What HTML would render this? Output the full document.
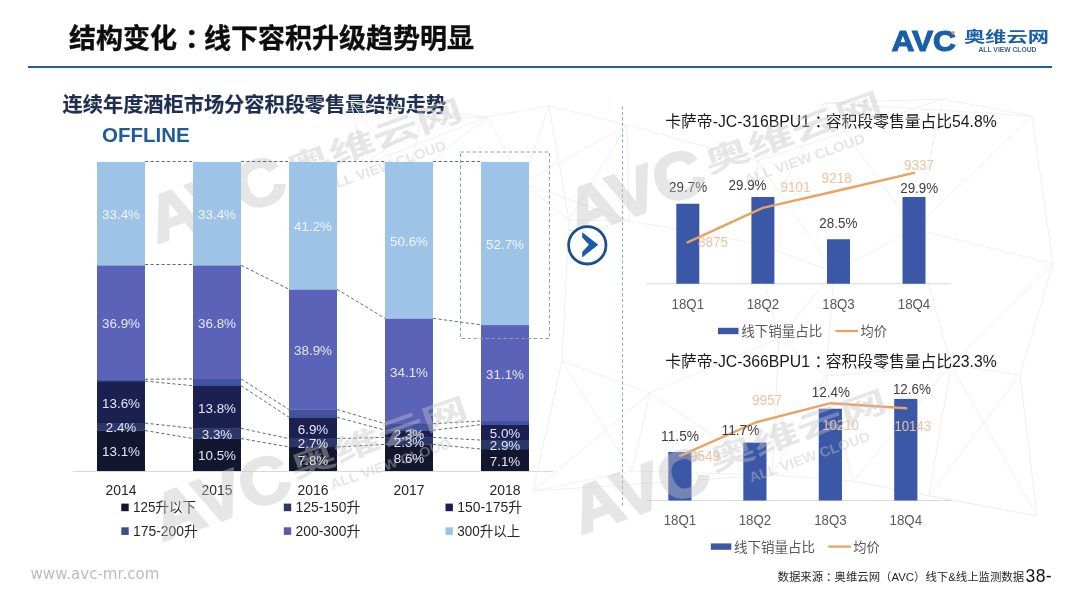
<!DOCTYPE html>
<html lang="zh-CN">
<head>
<meta charset="utf-8">
<title>结构变化：线下容积升级趋势明显</title>
<style>
html,body{margin:0;padding:0;background:#fff;}
body{width:1080px;height:608px;position:relative;overflow:hidden;font-family:'Liberation Sans', 'Noto Sans CJK SC', sans-serif;}
.abs{position:absolute;white-space:nowrap;line-height:1;}
#title{left:69px;top:26px;font-size:27px;font-weight:bold;color:#0d0d0d;-webkit-text-stroke:0.35px #0d0d0d;}
#rule{left:28px;top:66px;width:1024px;height:2.2px;background:#1f5fa6;}
#sub{left:62.6px;top:94.5px;font-size:20.2px;font-weight:bold;color:#1f2e50;-webkit-text-stroke:0.2px #1f2e50;}
#off{left:102px;top:124.6px;font-size:20.5px;font-weight:bold;color:#1f5c99;}
#www{left:30.5px;top:566.6px;font-size:15.1px;color:#bdbdbd;font-family:'DejaVu Sans','Liberation Sans',sans-serif;}
#src{left:777.5px;top:572.3px;font-size:11.4px;color:#262626;}
#pg{left:1025.5px;top:568.3px;font-size:17.6px;color:#111;letter-spacing:0.4px;}
svg{position:absolute;left:0;top:0;}
svg text{font-family:'Liberation Sans', 'Noto Sans CJK SC', sans-serif;}
</style>
</head>
<body>
<div class="abs" id="title">结构变化<span style="position:relative;left:8px">：</span>线下容积升级趋势明显</div>
<div class="abs" id="rule"></div>
<div class="abs" id="sub">连续年度酒柜市场分容积段零售量结构走势</div>
<div class="abs" id="off">OFFLINE</div>
<svg width="1080" height="608" viewBox="0 0 1080 608">
<g stroke="#f0f0f0" stroke-width="1" fill="none">
<line x1="549" y1="106" x2="569" y2="220"/>
<line x1="549" y1="106" x2="627" y2="125"/>
<line x1="549" y1="106" x2="487" y2="117"/>
<line x1="549" y1="106" x2="523" y2="183"/>
<line x1="569" y1="220" x2="562" y2="361"/>
<line x1="569" y1="220" x2="627" y2="125"/>
<line x1="569" y1="220" x2="629" y2="221"/>
<line x1="569" y1="220" x2="523" y2="183"/>
<line x1="562" y1="361" x2="533" y2="491"/>
<line x1="562" y1="361" x2="650" y2="393"/>
<line x1="562" y1="361" x2="632" y2="471"/>
<line x1="533" y1="491" x2="650" y2="393"/>
<line x1="533" y1="491" x2="632" y2="471"/>
<line x1="533" y1="491" x2="772" y2="475"/>
<line x1="627" y1="125" x2="629" y2="221"/>
<line x1="627" y1="125" x2="758" y2="161"/>
<line x1="627" y1="125" x2="523" y2="183"/>
<line x1="629" y1="221" x2="755" y2="243"/>
<line x1="629" y1="221" x2="523" y2="183"/>
<line x1="650" y1="393" x2="632" y2="471"/>
<line x1="650" y1="393" x2="779" y2="338"/>
<line x1="650" y1="393" x2="772" y2="475"/>
<line x1="632" y1="471" x2="772" y2="475"/>
<line x1="758" y1="161" x2="755" y2="243"/>
<line x1="758" y1="161" x2="824" y2="103"/>
<line x1="758" y1="161" x2="834" y2="272"/>
<line x1="758" y1="161" x2="943" y2="99"/>
<line x1="755" y1="243" x2="779" y2="338"/>
<line x1="755" y1="243" x2="824" y2="103"/>
<line x1="755" y1="243" x2="834" y2="272"/>
<line x1="779" y1="338" x2="772" y2="475"/>
<line x1="779" y1="338" x2="834" y2="272"/>
<line x1="779" y1="338" x2="826" y2="376"/>
<line x1="772" y1="475" x2="826" y2="376"/>
<line x1="772" y1="475" x2="853" y2="481"/>
<line x1="824" y1="103" x2="943" y2="99"/>
<line x1="824" y1="103" x2="914" y2="229"/>
<line x1="824" y1="103" x2="1032" y2="116"/>
<line x1="834" y1="272" x2="826" y2="376"/>
<line x1="834" y1="272" x2="914" y2="229"/>
<line x1="826" y1="376" x2="853" y2="481"/>
<line x1="826" y1="376" x2="951" y2="365"/>
<line x1="853" y1="481" x2="951" y2="365"/>
<line x1="853" y1="481" x2="929" y2="496"/>
<line x1="853" y1="481" x2="1037" y2="516"/>
<line x1="943" y1="99" x2="914" y2="229"/>
<line x1="943" y1="99" x2="1032" y2="116"/>
<line x1="914" y1="229" x2="951" y2="365"/>
<line x1="914" y1="229" x2="1032" y2="116"/>
<line x1="914" y1="229" x2="1053" y2="264"/>
<line x1="951" y1="365" x2="929" y2="496"/>
<line x1="951" y1="365" x2="1053" y2="264"/>
<line x1="951" y1="365" x2="1020" y2="375"/>
<line x1="951" y1="365" x2="1037" y2="516"/>
<line x1="929" y1="496" x2="1020" y2="375"/>
<line x1="929" y1="496" x2="1037" y2="516"/>
<line x1="1032" y1="116" x2="1053" y2="264"/>
<line x1="1053" y1="264" x2="1020" y2="375"/>
<line x1="1020" y1="375" x2="1037" y2="516"/>
<line x1="351" y1="102" x2="364" y2="165"/>
<line x1="351" y1="102" x2="421" y2="120"/>
<line x1="351" y1="102" x2="408" y2="180"/>
<line x1="351" y1="102" x2="487" y2="117"/>
<line x1="364" y1="165" x2="421" y2="120"/>
<line x1="364" y1="165" x2="408" y2="180"/>
<line x1="364" y1="165" x2="487" y2="117"/>
<line x1="421" y1="120" x2="408" y2="180"/>
<line x1="421" y1="120" x2="487" y2="117"/>
<line x1="408" y1="180" x2="487" y2="117"/>
<line x1="487" y1="117" x2="523" y2="183"/>
</g>
<g transform="translate(145.3,255.1) rotate(-19.5) scale(2.19)" opacity="0.42">
<text x="6.800000000000001" y="-3.1999999999999997" font-size="30" font-weight="bold" fill="#c4c4c4" stroke="#c4c4c4" stroke-width="1.1" textLength="64.6" lengthAdjust="spacingAndGlyphs">AVC</text>
<text x="73.5" y="-10.0" font-size="13.6" font-weight="bold" fill="#c4c4c4" textLength="85" lengthAdjust="spacingAndGlyphs">奥维云网</text>
<text x="88.0" y="0.4" font-size="6.3" font-weight="bold" fill="#c4c4c4" textLength="58" lengthAdjust="spacingAndGlyphs">ALL VIEW CLOUD</text>
</g>
<g id="stack">
<rect x="97" y="430.52" width="48" height="40.78" fill="#13162f"/>
<rect x="97" y="423.11" width="48" height="7.72" fill="#2b366b"/>
<rect x="97" y="381.08" width="48" height="42.32" fill="#1c2050"/>
<rect x="97" y="379.23" width="48" height="2.15" fill="#41529f"/>
<rect x="97" y="265.21" width="48" height="114.32" fill="#5b63b8"/>
<rect x="97" y="162.00" width="48" height="103.51" fill="#9dc3e6"/>
<rect x="193" y="438.56" width="48" height="32.74" fill="#13162f"/>
<rect x="193" y="428.36" width="48" height="10.50" fill="#2b366b"/>
<rect x="193" y="385.72" width="48" height="42.94" fill="#1c2050"/>
<rect x="193" y="378.92" width="48" height="7.10" fill="#41529f"/>
<rect x="193" y="265.21" width="48" height="114.01" fill="#5b63b8"/>
<rect x="193" y="162.00" width="48" height="103.51" fill="#9dc3e6"/>
<rect x="289" y="446.90" width="48" height="24.40" fill="#13162f"/>
<rect x="289" y="438.56" width="48" height="8.64" fill="#2b366b"/>
<rect x="289" y="417.23" width="48" height="21.62" fill="#1c2050"/>
<rect x="289" y="409.51" width="48" height="8.03" fill="#41529f"/>
<rect x="289" y="289.31" width="48" height="120.50" fill="#5b63b8"/>
<rect x="289" y="162.00" width="48" height="127.61" fill="#9dc3e6"/>
<rect x="385" y="444.43" width="48" height="26.87" fill="#13162f"/>
<rect x="385" y="437.32" width="48" height="7.41" fill="#2b366b"/>
<rect x="385" y="430.21" width="48" height="7.41" fill="#1c2050"/>
<rect x="385" y="423.72" width="48" height="6.79" fill="#41529f"/>
<rect x="385" y="318.35" width="48" height="105.67" fill="#5b63b8"/>
<rect x="385" y="162.00" width="48" height="156.65" fill="#9dc3e6"/>
<rect x="481" y="449.06" width="48" height="22.24" fill="#13162f"/>
<rect x="481" y="440.10" width="48" height="9.26" fill="#2b366b"/>
<rect x="481" y="424.65" width="48" height="15.75" fill="#1c2050"/>
<rect x="481" y="420.94" width="48" height="4.01" fill="#41529f"/>
<rect x="481" y="324.84" width="48" height="96.40" fill="#5b63b8"/>
<rect x="481" y="162.00" width="48" height="163.14" fill="#9dc3e6"/>
</g>
<g stroke="#6b6b6b" stroke-width="1" stroke-dasharray="3.2 2.3" fill="none">
<line x1="145" y1="430.52" x2="193" y2="438.56"/>
<line x1="145" y1="423.11" x2="193" y2="428.36"/>
<line x1="145" y1="381.08" x2="193" y2="385.72"/>
<line x1="145" y1="379.23" x2="193" y2="378.92"/>
<line x1="145" y1="264.50" x2="193" y2="264.50"/>
<line x1="145" y1="161.50" x2="193" y2="161.50"/>
<line x1="241" y1="438.56" x2="289" y2="446.90"/>
<line x1="241" y1="428.36" x2="289" y2="438.56"/>
<line x1="241" y1="385.72" x2="289" y2="417.23"/>
<line x1="241" y1="378.92" x2="289" y2="409.51"/>
<line x1="241" y1="265.21" x2="289" y2="289.31"/>
<line x1="241" y1="161.50" x2="289" y2="161.50"/>
<line x1="337" y1="446.90" x2="385" y2="444.43"/>
<line x1="337" y1="438.56" x2="385" y2="437.32"/>
<line x1="337" y1="417.23" x2="385" y2="430.21"/>
<line x1="337" y1="409.51" x2="385" y2="423.72"/>
<line x1="337" y1="289.31" x2="385" y2="318.35"/>
<line x1="337" y1="161.50" x2="385" y2="161.50"/>
<line x1="433" y1="444.43" x2="481" y2="449.06"/>
<line x1="433" y1="437.32" x2="481" y2="440.10"/>
<line x1="433" y1="430.21" x2="481" y2="424.65"/>
<line x1="433" y1="423.72" x2="481" y2="420.94"/>
<line x1="433" y1="318.35" x2="481" y2="324.84"/>
<line x1="433" y1="161.50" x2="481" y2="161.50"/>
</g>
<line x1="73" y1="471.5" x2="553" y2="471.5" stroke="#d9d9d9" stroke-width="1"/>
<text x="121.0" y="456.4" font-size="13.5" fill="#e4e6f1" text-anchor="middle" textLength="38.0" lengthAdjust="spacingAndGlyphs">13.1%</text>
<text x="121.0" y="432.4" font-size="13.5" fill="#e4e6f1" text-anchor="middle" textLength="30.5" lengthAdjust="spacingAndGlyphs">2.4%</text>
<text x="121.0" y="407.7" font-size="13.5" fill="#e4e6f1" text-anchor="middle" textLength="38.0" lengthAdjust="spacingAndGlyphs">13.6%</text>
<text x="121.0" y="327.8" font-size="13.5" fill="#e4e6f1" text-anchor="middle" textLength="38.0" lengthAdjust="spacingAndGlyphs">36.9%</text>
<text x="121.0" y="219.2" font-size="13.5" fill="#f2f5fb" text-anchor="middle" textLength="38.0" lengthAdjust="spacingAndGlyphs">33.4%</text>
<text x="121.0" y="495.0" font-size="14" fill="#262626" text-anchor="middle" textLength="31" lengthAdjust="spacingAndGlyphs">2014</text>
<text x="217.0" y="460.4" font-size="13.5" fill="#e4e6f1" text-anchor="middle" textLength="38.0" lengthAdjust="spacingAndGlyphs">10.5%</text>
<text x="217.0" y="439.1" font-size="13.5" fill="#e4e6f1" text-anchor="middle" textLength="30.5" lengthAdjust="spacingAndGlyphs">3.3%</text>
<text x="217.0" y="412.6" font-size="13.5" fill="#e4e6f1" text-anchor="middle" textLength="38.0" lengthAdjust="spacingAndGlyphs">13.8%</text>
<text x="217.0" y="327.7" font-size="13.5" fill="#e4e6f1" text-anchor="middle" textLength="38.0" lengthAdjust="spacingAndGlyphs">36.8%</text>
<text x="217.0" y="219.2" font-size="13.5" fill="#f2f5fb" text-anchor="middle" textLength="38.0" lengthAdjust="spacingAndGlyphs">33.4%</text>
<text x="217.0" y="495.0" font-size="14" fill="#262626" text-anchor="middle" textLength="31" lengthAdjust="spacingAndGlyphs">2015</text>
<text x="313.0" y="464.5" font-size="13.5" fill="#e4e6f1" text-anchor="middle" textLength="30.5" lengthAdjust="spacingAndGlyphs">7.8%</text>
<text x="313.0" y="448.3" font-size="13.5" fill="#e4e6f1" text-anchor="middle" textLength="30.5" lengthAdjust="spacingAndGlyphs">2.7%</text>
<text x="313.0" y="433.5" font-size="13.5" fill="#e4e6f1" text-anchor="middle" textLength="30.5" lengthAdjust="spacingAndGlyphs">6.9%</text>
<text x="313.0" y="355.0" font-size="13.5" fill="#e4e6f1" text-anchor="middle" textLength="38.0" lengthAdjust="spacingAndGlyphs">38.9%</text>
<text x="313.0" y="231.3" font-size="13.5" fill="#f2f5fb" text-anchor="middle" textLength="38.0" lengthAdjust="spacingAndGlyphs">41.2%</text>
<text x="313.0" y="495.0" font-size="14" fill="#262626" text-anchor="middle" textLength="31" lengthAdjust="spacingAndGlyphs">2016</text>
<text x="409.0" y="463.3" font-size="13.5" fill="#e4e6f1" text-anchor="middle" textLength="30.5" lengthAdjust="spacingAndGlyphs">8.6%</text>
<text x="409.0" y="446.5" font-size="13.5" fill="#e4e6f1" text-anchor="middle" textLength="30.5" lengthAdjust="spacingAndGlyphs">2.3%</text>
<text x="409.0" y="439.4" font-size="13.5" fill="#e4e6f1" text-anchor="middle" textLength="30.5" lengthAdjust="spacingAndGlyphs">2.3%</text>
<text x="409.0" y="376.6" font-size="13.5" fill="#e4e6f1" text-anchor="middle" textLength="38.0" lengthAdjust="spacingAndGlyphs">34.1%</text>
<text x="409.0" y="245.8" font-size="13.5" fill="#f2f5fb" text-anchor="middle" textLength="38.0" lengthAdjust="spacingAndGlyphs">50.6%</text>
<text x="409.0" y="495.0" font-size="14" fill="#262626" text-anchor="middle" textLength="31" lengthAdjust="spacingAndGlyphs">2017</text>
<text x="505.0" y="465.6" font-size="13.5" fill="#e4e6f1" text-anchor="middle" textLength="30.5" lengthAdjust="spacingAndGlyphs">7.1%</text>
<text x="505.0" y="450.2" font-size="13.5" fill="#e4e6f1" text-anchor="middle" textLength="30.5" lengthAdjust="spacingAndGlyphs">2.9%</text>
<text x="505.0" y="438.0" font-size="13.5" fill="#e4e6f1" text-anchor="middle" textLength="30.5" lengthAdjust="spacingAndGlyphs">5.0%</text>
<text x="505.0" y="378.5" font-size="13.5" fill="#e4e6f1" text-anchor="middle" textLength="38.0" lengthAdjust="spacingAndGlyphs">31.1%</text>
<text x="505.0" y="249.0" font-size="13.5" fill="#f2f5fb" text-anchor="middle" textLength="38.0" lengthAdjust="spacingAndGlyphs">52.7%</text>
<text x="505.0" y="495.0" font-size="14" fill="#262626" text-anchor="middle" textLength="31" lengthAdjust="spacingAndGlyphs">2018</text>
<rect x="460.5" y="152" width="89" height="186.5" fill="none" stroke="#86a6ab" stroke-width="1" stroke-dasharray="3.5 2.5"/>
<line x1="622.5" y1="106.5" x2="622.5" y2="506" stroke="#7fb2b8" stroke-width="1" stroke-dasharray="3 2.5"/>
<rect x="121.3" y="503.6" width="7.4" height="7.6" fill="#13162f"/>
<text x="133.1" y="511.8" font-size="14" fill="#262626" textLength="62.8" lengthAdjust="spacingAndGlyphs">125升以下</text>
<rect x="283.8" y="503.6" width="7.4" height="7.6" fill="#2b395f"/>
<text x="295.6" y="511.8" font-size="14" fill="#262626" textLength="64.8" lengthAdjust="spacingAndGlyphs">125-150升</text>
<rect x="445.5" y="503.6" width="7.4" height="7.6" fill="#1c2050"/>
<text x="457.3" y="511.8" font-size="14" fill="#262626" textLength="64.8" lengthAdjust="spacingAndGlyphs">150-175升</text>
<rect x="121.3" y="527.3000000000001" width="7.4" height="7.6" fill="#3b4f80"/>
<text x="133.1" y="535.5" font-size="14" fill="#262626" textLength="64.8" lengthAdjust="spacingAndGlyphs">175-200升</text>
<rect x="283.8" y="527.3000000000001" width="7.4" height="7.6" fill="#5c5ca8"/>
<text x="295.6" y="535.5" font-size="14" fill="#262626" textLength="64.8" lengthAdjust="spacingAndGlyphs">200-300升</text>
<rect x="445.5" y="527.3000000000001" width="7.4" height="7.6" fill="#9dc3e6"/>
<text x="457.3" y="535.5" font-size="14" fill="#262626" textLength="62.8" lengthAdjust="spacingAndGlyphs">300升以上</text>
<text x="665.3" y="127.0" font-size="16" fill="#1a1a1a" textLength="331.5" lengthAdjust="spacingAndGlyphs">卡萨帝-JC-316BPU1<tspan dx="4.5">：</tspan><tspan dx="-4.5">容</tspan>积段零售量占比54.8%</text>
<line x1="646" y1="283.75" x2="951" y2="283.75" stroke="#d9d9d9" stroke-width="1"/>
<rect x="676.3" y="203.75" width="23" height="80.00" fill="#3b58a8"/>
<rect x="751.4" y="197" width="23" height="86.75" fill="#3b58a8"/>
<rect x="827" y="239.25" width="23" height="44.50" fill="#3b58a8"/>
<rect x="902.5" y="197" width="23" height="86.75" fill="#3b58a8"/>
<polyline points="687.5,242.3 762.8,207.8 838.5,190.5 914,172.9" fill="none" stroke="#eaa263" stroke-width="2.4" stroke-linejoin="round" stroke-linecap="round"/>
<text x="688.1" y="191.5" font-size="14" fill="#404040" text-anchor="middle" textLength="38" lengthAdjust="spacingAndGlyphs">29.7%</text>
<text x="747.5" y="189.7" font-size="14" fill="#404040" text-anchor="middle" textLength="38" lengthAdjust="spacingAndGlyphs">29.9%</text>
<text x="838.3" y="228.3" font-size="14" fill="#404040" text-anchor="middle" textLength="38" lengthAdjust="spacingAndGlyphs">28.5%</text>
<text x="919.2" y="192.5" font-size="14" fill="#404040" text-anchor="middle" textLength="38" lengthAdjust="spacingAndGlyphs">29.9%</text>
<text x="713.0" y="247.0" font-size="14" fill="#ecc3a0" text-anchor="middle" textLength="30.2" lengthAdjust="spacingAndGlyphs">8875</text>
<text x="795.5" y="191.5" font-size="14" fill="#ecc3a0" text-anchor="middle" textLength="30.2" lengthAdjust="spacingAndGlyphs">9101</text>
<text x="836.7" y="182.8" font-size="14" fill="#ecc3a0" text-anchor="middle" textLength="30.2" lengthAdjust="spacingAndGlyphs">9218</text>
<text x="919.0" y="170.3" font-size="14" fill="#ecc3a0" text-anchor="middle" textLength="30.2" lengthAdjust="spacingAndGlyphs">9337</text>
<text x="687.8" y="309.0" font-size="14" fill="#595959" text-anchor="middle" textLength="32.5" lengthAdjust="spacingAndGlyphs">18Q1</text>
<text x="762.9" y="309.0" font-size="14" fill="#595959" text-anchor="middle" textLength="32.5" lengthAdjust="spacingAndGlyphs">18Q2</text>
<text x="838.5" y="309.0" font-size="14" fill="#595959" text-anchor="middle" textLength="32.5" lengthAdjust="spacingAndGlyphs">18Q3</text>
<text x="914.0" y="309.0" font-size="14" fill="#595959" text-anchor="middle" textLength="32.5" lengthAdjust="spacingAndGlyphs">18Q4</text>
<rect x="718" y="327.8" width="20.5" height="6.4" fill="#3b58a8"/>
<text x="741.3" y="336.0" font-size="13.5" fill="#595959" textLength="81" lengthAdjust="spacingAndGlyphs">线下销量占比</text>
<line x1="835.5" y1="331" x2="858" y2="331" stroke="#ec9f59" stroke-width="2.2"/>
<text x="860.5" y="336.0" font-size="13.5" fill="#595959" textLength="26.5" lengthAdjust="spacingAndGlyphs">均价</text>
<text x="665.3" y="367.0" font-size="16" fill="#1a1a1a" textLength="331.5" lengthAdjust="spacingAndGlyphs">卡萨帝-JC-366BPU1<tspan dx="4.5">：</tspan><tspan dx="-4.5">容</tspan>积段零售量占比23.3%</text>
<line x1="646" y1="500.5" x2="951" y2="500.5" stroke="#d9d9d9" stroke-width="1"/>
<rect x="668.3" y="452" width="23.2" height="48.50" fill="#3b58a8"/>
<rect x="743.3" y="442.6" width="23.2" height="57.90" fill="#3b58a8"/>
<rect x="818.75" y="408.75" width="23.2" height="91.75" fill="#3b58a8"/>
<rect x="894.2" y="398.9" width="23.2" height="101.60" fill="#3b58a8"/>
<polyline points="680.1,455.8 755.5,422.5 830.6,403.2 906.2,408.3" fill="none" stroke="#eaa263" stroke-width="2.4" stroke-linejoin="round" stroke-linecap="round"/>
<text x="680.1" y="440.5" font-size="14" fill="#404040" text-anchor="middle" textLength="38" lengthAdjust="spacingAndGlyphs">11.5%</text>
<text x="740.5" y="435.3" font-size="14" fill="#404040" text-anchor="middle" textLength="38" lengthAdjust="spacingAndGlyphs">11.7%</text>
<text x="830.8" y="397.2" font-size="14" fill="#404040" text-anchor="middle" textLength="38" lengthAdjust="spacingAndGlyphs">12.4%</text>
<text x="911.9" y="393.8" font-size="14" fill="#404040" text-anchor="middle" textLength="38" lengthAdjust="spacingAndGlyphs">12.6%</text>
<text x="705.0" y="460.7" font-size="14" fill="#ecc3a0" text-anchor="middle" textLength="30.2" lengthAdjust="spacingAndGlyphs">9549</text>
<text x="767.0" y="405.1" font-size="14" fill="#ecc3a0" text-anchor="middle" textLength="30.2" lengthAdjust="spacingAndGlyphs">9957</text>
<text x="840.6" y="429.9" font-size="14" fill="#ecc3a0" text-anchor="middle" textLength="36.8" lengthAdjust="spacingAndGlyphs">10210</text>
<text x="912.8" y="430.5" font-size="14" fill="#ecc3a0" text-anchor="middle" textLength="36.8" lengthAdjust="spacingAndGlyphs">10143</text>
<text x="679.9" y="525.0" font-size="14" fill="#595959" text-anchor="middle" textLength="32.5" lengthAdjust="spacingAndGlyphs">18Q1</text>
<text x="754.9" y="525.0" font-size="14" fill="#595959" text-anchor="middle" textLength="32.5" lengthAdjust="spacingAndGlyphs">18Q2</text>
<text x="830.4" y="525.0" font-size="14" fill="#595959" text-anchor="middle" textLength="32.5" lengthAdjust="spacingAndGlyphs">18Q3</text>
<text x="905.8" y="525.0" font-size="14" fill="#595959" text-anchor="middle" textLength="32.5" lengthAdjust="spacingAndGlyphs">18Q4</text>
<rect x="710.8" y="543.4" width="20.5" height="6.4" fill="#3b58a8"/>
<text x="734.1" y="551.6" font-size="13.5" fill="#595959" textLength="81" lengthAdjust="spacingAndGlyphs">线下销量占比</text>
<line x1="828.3" y1="546.6" x2="850.8" y2="546.6" stroke="#ec9f59" stroke-width="2.2"/>
<text x="853.3" y="551.6" font-size="13.5" fill="#595959" textLength="26.5" lengthAdjust="spacingAndGlyphs">均价</text>
<g transform="translate(564.3,248.1) rotate(-19.5) scale(2.19)" opacity="0.42">
<text x="6.800000000000001" y="-3.1999999999999997" font-size="30" font-weight="bold" fill="#c4c4c4" stroke="#c4c4c4" stroke-width="1.1" textLength="64.6" lengthAdjust="spacingAndGlyphs">AVC</text>
<text x="73.5" y="-10.0" font-size="13.6" font-weight="bold" fill="#c4c4c4" textLength="85" lengthAdjust="spacingAndGlyphs">奥维云网</text>
<text x="88.0" y="0.4" font-size="6.3" font-weight="bold" fill="#c4c4c4" textLength="58" lengthAdjust="spacingAndGlyphs">ALL VIEW CLOUD</text>
</g>
<g transform="translate(150.3,553.1) rotate(-19.5) scale(2.19)" opacity="0.42">
<text x="6.800000000000001" y="-3.1999999999999997" font-size="30" font-weight="bold" fill="#c4c4c4" stroke="#c4c4c4" stroke-width="1.1" textLength="64.6" lengthAdjust="spacingAndGlyphs">AVC</text>
<text x="73.5" y="-10.0" font-size="13.6" font-weight="bold" fill="#c4c4c4" textLength="85" lengthAdjust="spacingAndGlyphs">奥维云网</text>
<text x="88.0" y="0.4" font-size="6.3" font-weight="bold" fill="#c4c4c4" textLength="58" lengthAdjust="spacingAndGlyphs">ALL VIEW CLOUD</text>
</g>
<g transform="translate(569.3,546.1) rotate(-19.5) scale(2.19)" opacity="0.42">
<text x="6.800000000000001" y="-3.1999999999999997" font-size="30" font-weight="bold" fill="#c4c4c4" stroke="#c4c4c4" stroke-width="1.1" textLength="64.6" lengthAdjust="spacingAndGlyphs">AVC</text>
<text x="73.5" y="-10.0" font-size="13.6" font-weight="bold" fill="#c4c4c4" textLength="85" lengthAdjust="spacingAndGlyphs">奥维云网</text>
<text x="88.0" y="0.4" font-size="6.3" font-weight="bold" fill="#c4c4c4" textLength="58" lengthAdjust="spacingAndGlyphs">ALL VIEW CLOUD</text>
</g>
<circle cx="587.3" cy="245.3" r="18.7" fill="#ffffff" fill-opacity="0.8" stroke="#1f4e8c" stroke-width="2.8"/>
<polygon points="582.2,232.2 598.3,244.7 582.2,257.4 582.2,251.9 588.9,244.7 582.2,237.6" fill="#1b5aa6"/>
<g transform="translate(891,51)">
<text x="0.4" y="-0.4" font-size="30" font-weight="bold" fill="#1b5ea8" stroke="#1b5ea8" stroke-width="1.1" textLength="64.6" lengthAdjust="spacingAndGlyphs">AVC</text>
<circle cx="62" cy="-18.2" r="1.7" fill="#e8973f"/>
<text x="73" y="-9.4" font-size="14.6" font-weight="bold" fill="#1b5ea8" textLength="85" lengthAdjust="spacingAndGlyphs">奥维云网</text>
<text x="87.5" y="1.0" font-size="6.3" font-weight="bold" fill="#3f5f8f" textLength="58" lengthAdjust="spacingAndGlyphs">ALL VIEW CLOUD</text>
</g>
</svg>
<div class="abs" id="www">www.avc-mr.com</div>
<div class="abs" id="src">数据来源<span style="position:relative;left:3px">：</span>奥维云网（AVC）线下&amp;线上监测数据</div>
<div class="abs" id="pg">38-</div>
</body>
</html>
